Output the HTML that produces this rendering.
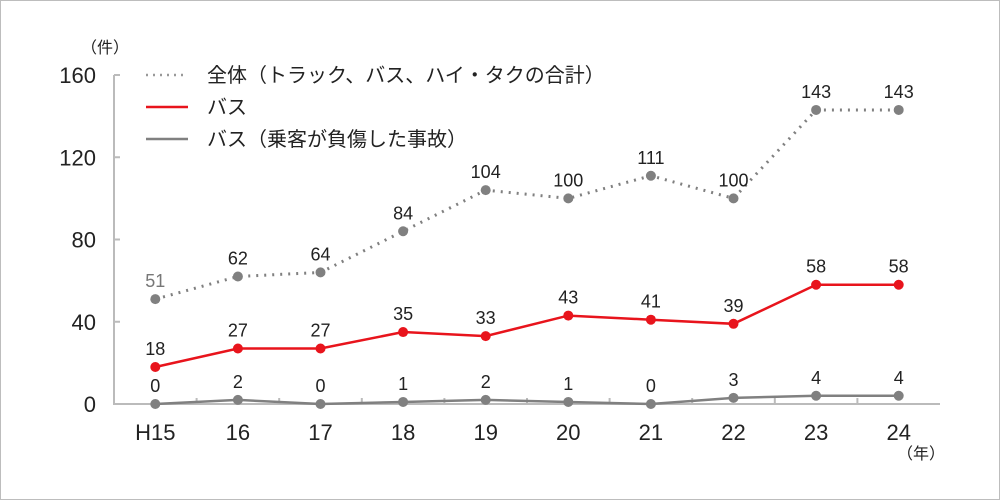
<!DOCTYPE html>
<html><head><meta charset="utf-8"><style>
html,body{margin:0;padding:0;background:#fff}
#wrap{width:998px;height:498px;border:1px solid #bdbdbd;position:relative;overflow:hidden}
svg text{font-family:"Liberation Sans","Noto Sans CJK JP",sans-serif;fill:#222}
</style></head><body>
<div id="wrap">
<svg id="chart" width="998" height="498"></svg>
</div>
<script>
const categories=["H15","16","17","18","19","20","21","22","23","24"];
const totalValues=[51,62,64,84,104,100,111,100,143,143];
const busValues=[18,27,27,35,33,43,41,39,58,58];
const busInjuryValues=[0,2,0,1,2,1,0,3,4,4];
const yTicks=[0,40,80,120,160];
const NS="http://www.w3.org/2000/svg";
const svg=document.getElementById('chart');
const x0=113,x1=939,yB=403,yT=74,yMax=160;
const step=(x1-x0)/categories.length;
const xs=i=>x0+step*(i+0.5);
const ys=v=>yB-(yB-yT)*v/yMax;
function mk(tag,attrs,parent){const e=document.createElementNS(NS,tag);for(const k in attrs)e.setAttribute(k,attrs[k]);(parent||svg).appendChild(e);return e;}
const ax=mk('path',{d:`M${x0},${yT} L${x0},${yB} L${x1},${yB}`,stroke:'#bbb','stroke-width':2,fill:'none'});


yTicks.forEach(t=>{
 const l=mk('line',{x1:x0,x2:x0+6,y1:ys(t),y2:ys(t),stroke:'#bbb','stroke-width':2});
 
 
 const tx=mk('text',{x:x0-18,y:ys(t)+8,'text-anchor':'end','font-size':22});
 tx.textContent=t;
 
 
});
for(let i=1;i<categories.length;i++){
 const l=mk('line',{x1:x0+step*i,x2:x0+step*i,y1:yB,y2:yB-6,stroke:'#bbb','stroke-width':2});
 
 
}
categories.forEach((c,i)=>{
 const tx=mk('text',{x:xs(i),y:yB+36,'text-anchor':'middle','font-size':22});
 tx.textContent=c;
 
 
});
const yu=mk('text',{x:104,y:52,'text-anchor':'middle','font-size':16});yu.textContent='（件）';


const xu=mk('text',{x:920,y:458,'text-anchor':'middle','font-size':16});xu.textContent='（年）';


function series(vals,color,dash,name,labelColor){
 const g=mk('g',{});
 
 
 const p=mk('polyline',{points:vals.map((v,i)=>xs(i)+','+ys(v)).join(' '),fill:'none',stroke:color,'stroke-width':dash?3:2.5,'stroke-dasharray':dash||'none'},g);
 
 
 vals.forEach((v,i)=>{
  const c=mk('circle',{cx:xs(i),cy:ys(v),r:5,fill:color},g);
  
  
  const t=mk('text',{x:xs(i),y:ys(v)-12,'text-anchor':'middle','font-size':18},g);
  t.textContent=v;
  if(labelColor&&i===0)t.setAttribute('style','fill:'+labelColor);
  
  
 });
}
series(busInjuryValues,'#808080',null,'bus-injury-series');
series(busValues,'#e8141c',null,'bus-series');
series(totalValues,'#808080','2 6','total-series','#777');
const leg=[['全体（トラック、バス、ハイ・タクの合計）','#999','2 5'],['バス','#e8141c',null],['バス（乗客が負傷した事故）','#808080',null]];
leg.forEach((L,i)=>{
 const g=mk('g',{});
 
 
 const y=74+i*32;
 mk('line',{x1:145,x2:187,y1:y,y2:y,stroke:L[1],'stroke-width':2.5,'stroke-dasharray':L[2]||'none'},g);
 const t=mk('text',{x:206,y:y+7,'font-size':20},g);t.textContent=L[0];
});
</script>
</body></html>
